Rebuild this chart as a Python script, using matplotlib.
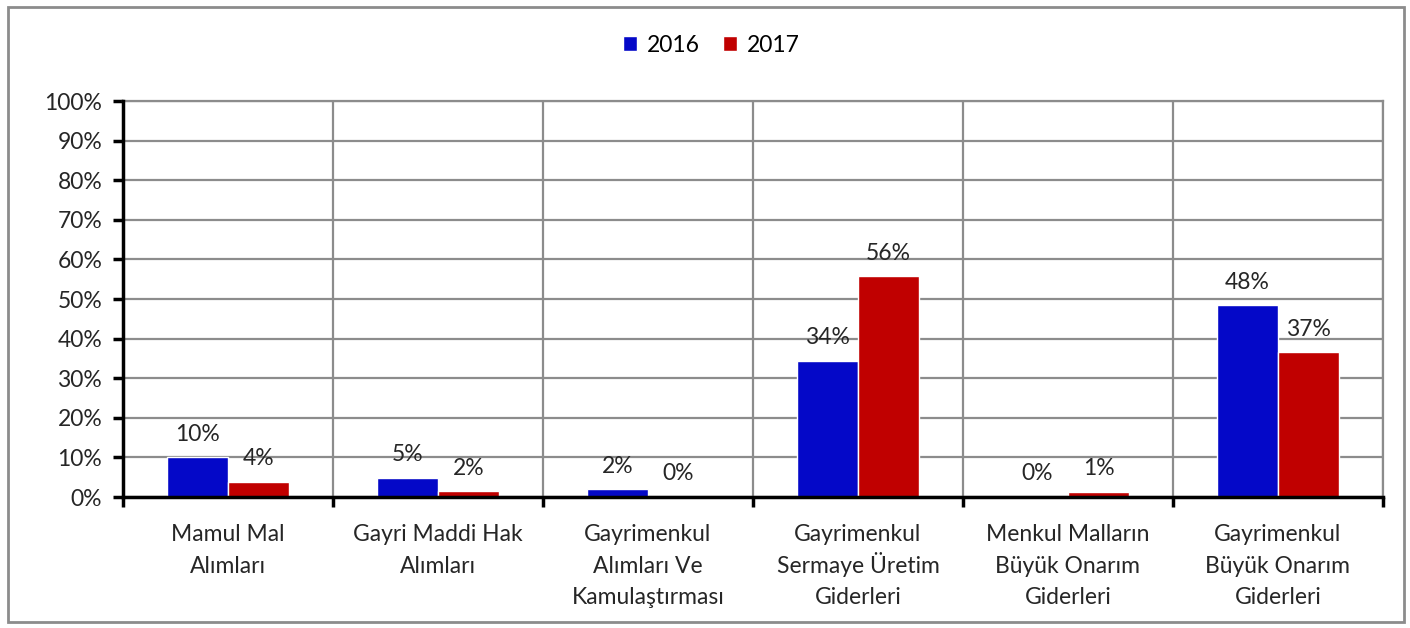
import numpy as np
import matplotlib
matplotlib.use("Agg")
from matplotlib import pyplot as plt
from matplotlib.patches import Rectangle

plt.rcParams["font.family"] = ["Lato", "DejaVu Sans"]

categories = [
    "Mamul Mal\nAlımları",
    "Gayri Maddi Hak\nAlımları",
    "Gayrimenkul\nAlımları Ve\nKamulaştırması",
    "Gayrimenkul\nSermaye Üretim\nGiderleri",
    "Menkul Malların\nBüyük Onarım\nGiderleri",
    "Gayrimenkul\nBüyük Onarım\nGiderleri",
]
series_names = ["2016", "2017"]
values_2016 = [10.1, 4.8, 2.0, 34.4, 0.0, 48.4]
values_2017 = [3.8, 1.5, 0.0, 55.8, 1.3, 36.6]
colors = ["#0408C8", "#C00000"]

fs = 16.5
txt = "#262626"
fig = plt.figure(figsize=(14.1, 6.28), dpi=100)
ax = fig.add_axes([123 / 1410, 1 - 497 / 628, 1260 / 1410, 396 / 628])

x = np.arange(len(categories))
w = 0.29
for vals, name, col, off in zip([values_2016, values_2017], series_names, colors, [-w / 2, w / 2]):
    bars = ax.bar(x + off, vals, w, color=col, edgecolor="white", linewidth=1, label=name, zorder=3)
    for b, v in zip(bars, vals):
        ax.annotate(f"{v:.0f}%", (b.get_x() + b.get_width() / 2, v), xytext=(0, 9),
                    textcoords="offset points", ha="center", va="bottom",
                    fontsize=fs, color=txt, zorder=4)

ax.set_xlim(-0.5, len(categories) - 0.5)
ax.set_ylim(0, 100)
ax.set_yticks(np.arange(0, 101, 10))
ax.set_yticklabels([f"{t}%" for t in range(0, 101, 10)])
ax.set_xticks(np.arange(-0.5, len(categories), 1))
ax.set_xticklabels([])
ax.tick_params(axis="x", which="major", direction="out", length=7, width=2.5, color="black")
ax.tick_params(axis="y", direction="out", length=7, width=2.5, color="black",
               labelsize=fs, labelcolor=txt, pad=8)

# category names, one line at a time so every line gets the same spacing
for i, cat in enumerate(categories):
    for j, line in enumerate(cat.split("\n")):
        ax.annotate(line, (i, 0), xycoords=("data", "axes fraction"),
                    xytext=(0, -32 - 22.5 * j), textcoords="offset points",
                    ha="center", va="baseline", fontsize=fs, color=txt)

ax.grid(True, which="major", color="#8C8C8C", linewidth=1.6, zorder=0)
for s in ["top", "right"]:
    ax.spines[s].set_color("#8C8C8C")
    ax.spines[s].set_linewidth(1.6)
for s in ["left", "bottom"]:
    ax.spines[s].set_color("black")
    ax.spines[s].set_linewidth(2.5)
    ax.spines[s].set_zorder(5)

fig.legend(loc="center", bbox_to_anchor=(711 / 1410, 1 - 45 / 628), ncol=2, frameon=False,
           fontsize=fs, handlelength=0.65, handleheight=0.65, handletextpad=0.4, columnspacing=1.0)

fig.patches.append(Rectangle((8 / 1410, 6 / 628), 1396 / 1410, 615 / 628, transform=fig.transFigure,
                             fill=False, edgecolor="#8C8C8C", linewidth=2))

fig.savefig("out.png", dpi=100)
